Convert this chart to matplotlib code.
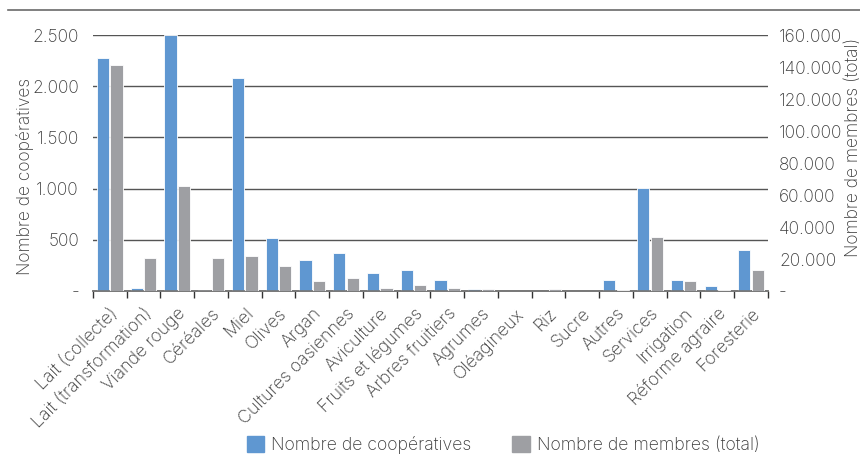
import numpy as np
import matplotlib.pyplot as plt
from matplotlib.ticker import FuncFormatter
from matplotlib.lines import Line2D

plt.rcParams['font.family'] = ['Inter', 'DejaVu Sans']
plt.rcParams['font.weight'] = 'light'

categories = ['Lait (collecte)', 'Lait (transformation)', 'Viande rouge', 'Céréales', 'Miel',
              'Olives', 'Argan', 'Cultures oasiennes', 'Aviculture', 'Fruits et légumes',
              'Arbres fruitiers', 'Agrumes', 'Oléagineux', 'Riz', 'Sucre', 'Autres',
              'Services', 'Irrigation', 'Réforme agraire', 'Foresterie']
cooperatives = [2280, 35, 2500, 8, 2080, 515, 305, 375, 180, 205,
                107, 20, 0, 0, 0, 107, 1010, 107, 52, 400]
membres = [141000, 20700, 65800, 20800, 22200, 15800, 6400, 8100, 1900, 3500,
           1900, 1200, 300, 1200, 200, 800, 33700, 6400, 900, 13100]

blue = '#5f97d1'
grey = '#9e9fa3'
txt = '#3a3a3a'

def thousands(v, pos):
    if v == 0:
        return '-'
    return f'{int(v):,}'.replace(',', '.')

fig = plt.figure(figsize=(8.6, 4.68), dpi=100)
ax = fig.add_axes([0.108, 0.378, 0.785, 0.547])
ax2 = ax.twinx()

x = np.arange(len(categories))
w = 0.36
ax.bar(x - 0.2, cooperatives, w, color=blue, edgecolor='white', linewidth=0.6, zorder=3)
ax2.bar(x + 0.2, membres, w, color=grey, edgecolor='white', linewidth=0.6, zorder=3)

ax.set_xlim(-0.5, len(categories) - 0.5)
ax.set_ylim(0, 2500)
ax2.set_ylim(0, 160000)
ax.set_yticks(np.arange(0, 2501, 500))
ax2.set_yticks(np.arange(0, 160001, 20000))
ax.yaxis.set_major_formatter(FuncFormatter(thousands))
ax2.yaxis.set_major_formatter(FuncFormatter(thousands))

ax.grid(axis='y', color='#555555', linewidth=1.0, zorder=0)
ax.set_axisbelow(True)
for a in (ax, ax2):
    for s in ('top', 'left', 'right'):
        a.spines[s].set_visible(False)
    a.spines['bottom'].set_color('#777777')
    a.spines['bottom'].set_linewidth(1.2)
    a.tick_params(axis='y', length=0, labelsize=12.5, labelcolor=txt)
ax.tick_params(axis='y', pad=10)
ax2.tick_params(axis='y', pad=8)

ax.set_xticks(x)
ax.set_xticklabels(categories, rotation=45, ha='right', rotation_mode='anchor',
                   fontsize=12.8, color=txt)
ax.set_xticks(np.arange(-0.5, len(categories), 1), minor=True)
ax.tick_params(axis='x', which='major', length=0, pad=10)
ax.tick_params(axis='x', which='minor', length=5, width=1, color='#333333', direction='out')

fig.text(0.029, 0.624, 'Nombre de coopératives', rotation=90, fontsize=12.5,
         color=txt, ha='center', va='center')
fig.text(0.992, 0.686, 'Nombre de membres (total)', rotation=90, fontsize=12.5,
         color=txt, ha='center', va='center')

# rule across the top
fig.add_artist(Line2D([0.009, 1.0], [0.978, 0.978], color='#6a6a6a', linewidth=1.2))

handles = [plt.Rectangle((0, 0), 1, 1, color=blue), plt.Rectangle((0, 0), 1, 1, color=grey)]
fig.legend(handles, ['Nombre de coopératives', 'Nombre de membres (total)'],
           loc='center', bbox_to_anchor=(0.585, 0.049), ncol=2, frameon=False,
           fontsize=12.7, handlelength=1.0, handleheight=1.0, columnspacing=2.3,
           handletextpad=0.4, labelcolor=txt)

fig.savefig('out.png', dpi=100)
